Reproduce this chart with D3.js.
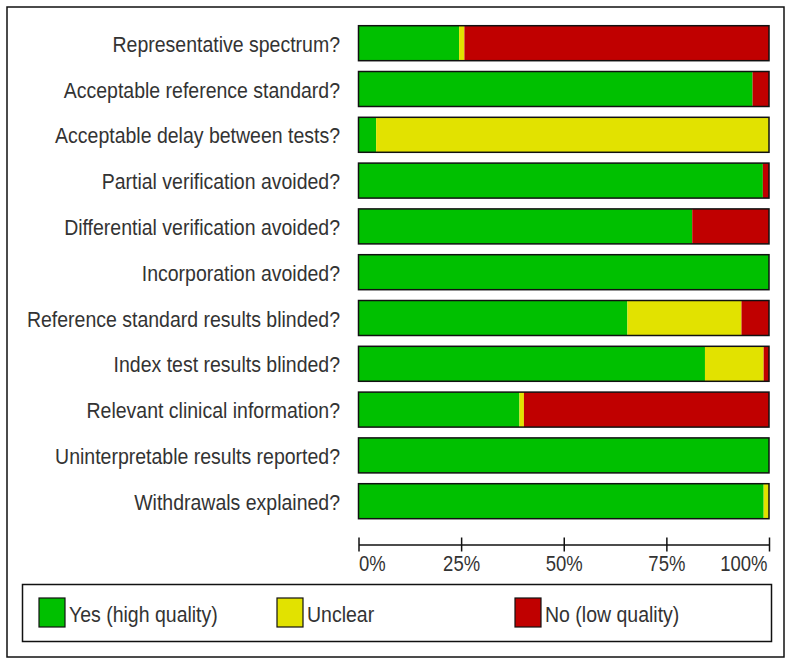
<!DOCTYPE html>
<html>
<head>
<meta charset="utf-8">
<script src="https://cdn.jsdelivr.net/npm/d3@7"></script>
<style>
  html, body { margin: 0; padding: 0; background: #fff; }
  svg { display: block; }
  text { font-family: "Liberation Sans", Arial, sans-serif; fill: #333; }
</style>
</head>
<body>
<svg id="chart" width="793" height="666"></svg>
<script>
const categories = [
  "Representative spectrum?",
  "Acceptable reference standard?",
  "Acceptable delay between tests?",
  "Partial verification avoided?",
  "Differential verification avoided?",
  "Incorporation avoided?",
  "Reference standard results blinded?",
  "Index test results blinded?",
  "Relevant clinical information?",
  "Uninterpretable results reported?",
  "Withdrawals explained?"
];
const yesValues     = [24.5, 96.0,  4.3, 98.5, 81.3, 100, 65.5, 84.4, 39.2, 100, 98.7];
const unclearValues = [ 1.3,  0.0, 95.7,  0.0,  0.0,   0, 27.8, 14.3,  1.1,   0,  1.3];
const noValues      = [74.2,  4.0,  0.0,  1.5, 18.7,   0,  6.7,  1.3, 59.7,   0,  0.0];
const tickValues = [0, 25, 50, 75, 100];
const tickLabels = ["0%", "25%", "50%", "75%", "100%"];
const legendLabels = ["Yes (high quality)", "Unclear", "No (low quality)"];
const seriesKeys = ["yes", "unclear", "no"];
const colors = ["#00c000", "#e2e200", "#c00000"];

const STRETCH = 1.15;
const svg = d3.select("#chart");

// outer frame
svg.append("rect").attr("x", 7).attr("y", 7).attr("width", 777).attr("height", 650)
  .attr("fill", "none").attr("stroke", "#111").attr("stroke-width", 1.5);

const x = d3.scaleLinear().domain([0, 100]).range([358.5, 769]);
const y = d3.scaleBand().domain(categories).range([20.3, 524.1]).paddingInner(0.236).paddingOuter(0.118);
const color = d3.scaleOrdinal().domain(seriesKeys).range(colors);

const rows = categories.map((c, i) => ({ cat: c, yes: yesValues[i], unclear: unclearValues[i], no: noValues[i] }));
const stacked = d3.stack().keys(seriesKeys)(rows);

const g = svg.append("g");
g.selectAll("g.series").data(stacked).join("g").attr("class", "series")
  .attr("fill", d => color(d.key))
  .selectAll("rect").data(d => d).join("rect")
  .attr("x", d => x(d[0]))
  .attr("width", d => Math.max(0, x(d[1]) - x(d[0])))
  .attr("y", d => y(d.data.cat))
  .attr("height", y.bandwidth());

// bar outlines
g.selectAll("rect.outline").data(categories).join("rect").attr("class", "outline")
  .attr("x", x(0)).attr("width", x(100) - x(0))
  .attr("y", d => y(d)).attr("height", y.bandwidth())
  .attr("fill", "none").attr("stroke", "#111").attr("stroke-width", 1.5);

// category labels
g.selectAll("text.cat").data(categories).join("text").attr("class", "cat")
  .attr("transform", d => `translate(340,${y(d) + y.bandwidth() / 2 + 0.5}) scale(1,${STRETCH})`)
  .attr("text-anchor", "end").attr("dominant-baseline", "central")
  .attr("font-size", 19.5).text(d => d);

// axis
const axisY = 544.5;
const axis = d3.axisBottom(x).tickValues(tickValues).tickSize(0).tickPadding(0)
  .tickFormat((d, i) => tickLabels[i]);
const ax = svg.append("g").attr("transform", `translate(0,${axisY})`).call(axis);
ax.select(".domain").attr("stroke", "#111").attr("stroke-width", 1.5);
ax.selectAll(".tick line").attr("y1", -7).attr("y2", 7).attr("stroke", "#111").attr("stroke-width", 1.5);
ax.selectAll(".tick text")
  .attr("y", 0).attr("dy", "0.71em").attr("font-size", 18.5).attr("fill", "#333")
  .attr("font-family", "'Liberation Sans', Arial, sans-serif")
  .attr("text-anchor", (d, i) => i === 0 ? "start" : (i === tickValues.length - 1 ? "end" : "middle"))
  .attr("x", (d, i) => i === tickValues.length - 1 ? -2 : 0)
  .attr("transform", `translate(0,11) scale(1,${STRETCH})`);

// legend
svg.append("rect").attr("x", 22.5).attr("y", 584.5).attr("width", 749).attr("height", 57)
  .attr("fill", "none").attr("stroke", "#111").attr("stroke-width", 1.5);
const legendX = [39, 277, 515];
const lg = svg.append("g").selectAll("g").data(legendLabels).join("g")
  .attr("transform", (d, i) => `translate(${legendX[i]},598)`);
lg.append("rect").attr("width", 26).attr("height", 29)
  .attr("fill", (d, i) => colors[i]).attr("stroke", "#111").attr("stroke-width", 1.2);
lg.append("text").attr("transform", `translate(30,15.5) scale(1,${STRETCH})`)
  .attr("dominant-baseline", "central")
  .attr("font-size", 19.5).text(d => d);
</script>
</body>
</html>
